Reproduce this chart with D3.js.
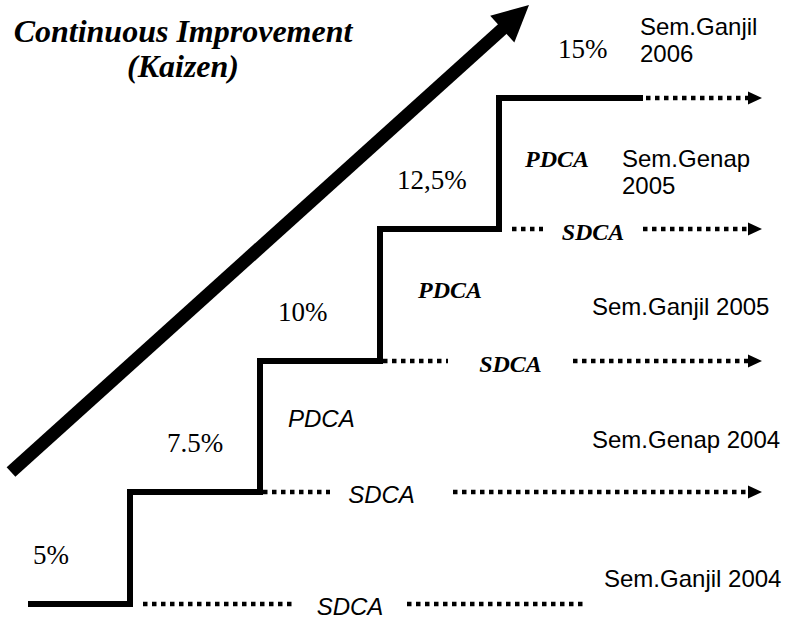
<!DOCTYPE html>
<html>
<head>
<meta charset="utf-8">
<script src="https://cdn.jsdelivr.net/npm/d3@7"></script>
<style>
  body { margin: 0; background: #fff; }
  svg { display: block; }
  .serif { font-family: "Liberation Serif", "Times New Roman", serif; }
  .sans { font-family: "Liberation Sans", Arial, sans-serif; }
</style>
</head>
<body>
<div id="chart"></div>
<script>
// steps of the kaizen staircase
const levels = [5, 7.5, 10, 12.5, 15];
const levelLabels = ['5%', '7.5%', '10%', '12,5%', '15%'];
const semesters = [
  ['Sem.Ganjil 2004'],
  ['Sem.Genap 2004'],
  ['Sem.Ganjil 2005'],
  ['Sem.Genap', '2005'],
  ['Sem.Ganjil', '2006']
];
const sdcaLabels = ['SDCA', 'SDCA', 'SDCA', 'SDCA'];
const pdcaLabels = ['PDCA', 'PDCA', 'PDCA'];
const titleLines = ['Continuous Improvement', '(Kaizen)'];

const width = 788;
const height = 627;

const svg = d3.select('#chart').append('svg')
  .attr('width', width)
  .attr('height', height);

// step index -> x (risers), level -> y
const x = d3.scaleLinear().domain([0, 1, 2, 3, 4, 5]).range([28, 130, 260, 380, 499, 643]);
const y = d3.scaleLinear().domain(levels).range([604, 492, 361, 229, 98]);

// big trend arrow
const tip = [529, 5];
const tail = [11, 472];
const len = Math.hypot(tip[0] - tail[0], tip[1] - tail[1]);
const ux = (tip[0] - tail[0]) / len;
const uy = (tip[1] - tail[1]) / len;
const headLen = 36;
const headHalf = 18;
const base = [tip[0] - headLen * ux, tip[1] - headLen * uy];
svg.append('line')
  .attr('x1', tail[0]).attr('y1', tail[1])
  .attr('x2', base[0] + 2 * ux).attr('y2', base[1] + 2 * uy)
  .attr('stroke', '#000')
  .attr('stroke-width', 13);
svg.append('path')
  .attr('d', d3.line()([
    tip,
    [base[0] - headHalf * uy, base[1] + headHalf * ux],
    [base[0] + headHalf * uy, base[1] - headHalf * ux]
  ]) + 'Z')
  .attr('fill', '#000');

// title
svg.append('text')
  .attr('class', 'serif')
  .attr('x', 183)
  .attr('text-anchor', 'middle')
  .attr('font-size', 32)
  .attr('font-weight', 'bold')
  .attr('font-style', 'italic')
  .selectAll('tspan')
  .data(titleLines)
  .enter()
  .append('tspan')
  .attr('x', 183)
  .attr('y', (d, i) => 42 + i * 35)
  .text(d => d);

// staircase
const stairData = levels.map((v, i) => [i, v]).concat([[levels.length, levels[levels.length - 1]]]);
svg.append('path')
  .datum(stairData)
  .attr('d', d3.line().x(d => x(d[0])).y(d => y(d[1])).curve(d3.curveStepAfter))
  .attr('fill', 'none')
  .attr('stroke', '#000')
  .attr('stroke-width', 6)
  .attr('stroke-linejoin', 'miter');

// dotted SDCA continuation lines: [start, gapStart, gapEnd, end]
const dotted = [
  [143, 293, 407, 585],
  [263, 330, 453, 762],
  [383, 448, 573, 762],
  [512, 543, 643, 762],
  [646, null, null, 762]
];
const arrowEnd = [false, true, true, true, true];
const dottedG = svg.append('g');
dotted.forEach((seg, i) => {
  const yy = y(levels[i]);
  const end = arrowEnd[i] ? seg[3] - 13 : seg[3];
  const parts = seg[1] === null ? [[seg[0], end]] : [[seg[0], seg[1]], [seg[2], end]];
  parts.forEach(p => {
    dottedG.append('line')
      .attr('x1', p[0]).attr('x2', p[1])
      .attr('y1', yy).attr('y2', yy)
      .attr('stroke', '#000')
      .attr('stroke-width', 4.5)
      .attr('stroke-dasharray', '4.5,4.5');
  });
  if (arrowEnd[i]) {
    dottedG.append('path')
      .attr('d', `M${seg[3]},${yy}L${seg[3] - 14},${yy - 6.5}L${seg[3] - 14},${yy + 6.5}Z`)
      .attr('fill', '#000');
  }
  if (i < sdcaLabels.length) {
    const fancy = i >= 2;
    svg.append('text')
      .attr('class', fancy ? 'serif' : 'sans')
      .attr('x', (seg[1] + seg[2]) / 2 + (i === 1 ? -10 : 0))
      .attr('y', yy + 11)
      .attr('text-anchor', 'middle')
      .attr('font-size', 24)
      .attr('font-style', 'italic')
      .attr('font-weight', fancy ? 'bold' : 'normal')
      .text(sdcaLabels[i]);
  }
});

// PDCA labels beside the risers 2..4
pdcaLabels.forEach((t, i) => {
  const step = i + 2;
  const fancy = i >= 1;
  svg.append('text')
    .attr('class', fancy ? 'serif' : 'sans')
    .attr('x', x(step) + [28, 38, 26][i])
    .attr('y', y(levels[step]) + [66, 69, 69][i])
    .attr('font-size', 24)
    .attr('font-style', 'italic')
    .attr('font-weight', fancy ? 'bold' : 'normal')
    .text(t);
});

// percentage labels above each step
const pctDx = [5, 37, 18, 17, 59];
svg.selectAll('.pct')
  .data(levelLabels)
  .enter()
  .append('text')
  .attr('class', 'serif pct')
  .attr('x', (d, i) => x(i) + pctDx[i])
  .attr('y', (d, i) => y(levels[i]) - 40)
  .attr('font-size', 27)
  .text(d => d);

// semester labels on the right
const semPos = [[604, -17], [592, -44], [592, -46], [622, -62], [640, -63]];
svg.selectAll('.sem')
  .data(semesters)
  .enter()
  .append('text')
  .attr('class', 'sans sem')
  .attr('font-size', 24)
  .each(function (d, i) {
    d3.select(this).selectAll('tspan')
      .data(d)
      .enter()
      .append('tspan')
      .attr('x', semPos[i][0])
      .attr('y', (t, j) => y(levels[i]) + semPos[i][1] + j * 27)
      .text(t => t);
  });
</script>
</body>
</html>
